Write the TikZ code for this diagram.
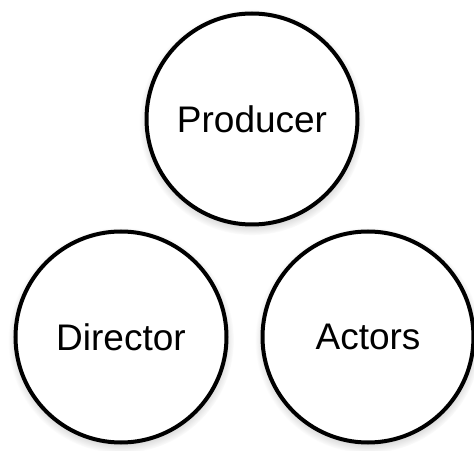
\documentclass[tikz,border=0pt]{standalone}
\usepackage{fontspec}
\setmainfont{Liberation Sans}
\usetikzlibrary{positioning,shadows}

\begin{document}
\begin{tikzpicture}[x=1pt, y=1pt,
    role/.style = {draw, circle, line width=4pt, fill=white, outer sep=0pt,
                   minimum size=211pt, inner sep=0pt,
                   font=\fontsize{37}{44}\selectfont,
                   circular drop shadow={shadow xshift=0pt, shadow yshift=-3pt,
                                         shadow scale=1.07, opacity=0.5}}]
            \useasboundingbox (0,0) rectangle (474,450);
            \node[role] (director) at (121,113) {Director};
            \node[role] (actors) [right=36pt of director] {Actors};
            \node[role] (producer) at (252,331) {Producer};
        \end{tikzpicture}
\end{document}
